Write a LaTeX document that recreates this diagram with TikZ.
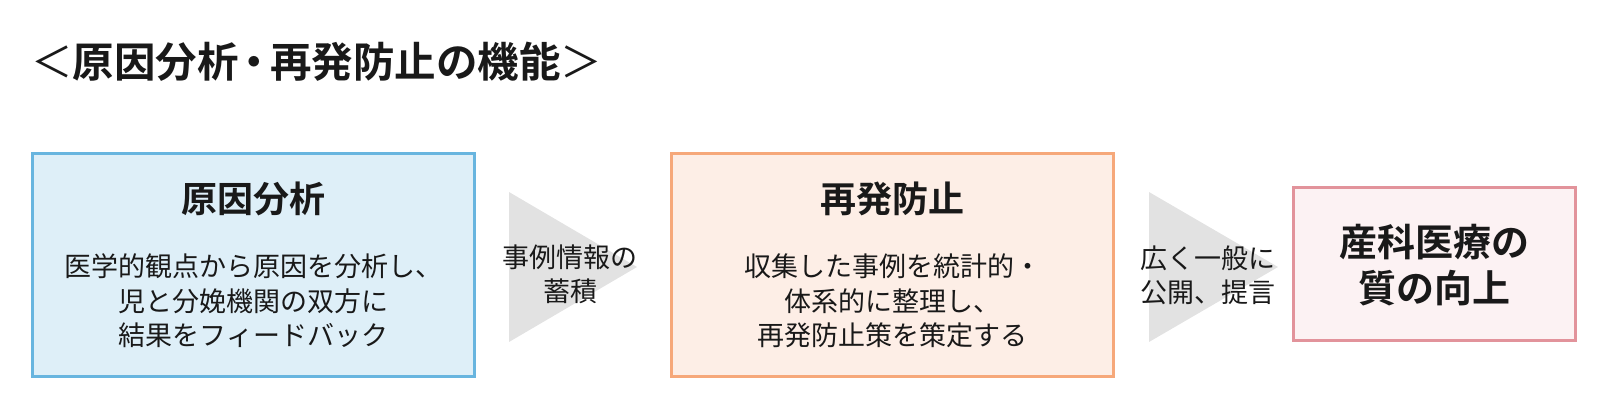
\documentclass[tikz,border=0pt]{standalone}
\usepackage{fontspec}
\setmainfont{Noto Sans CJK JP}
\newfontfamily\jpb{Noto Sans CJK JP Bold}
\definecolor{bluebd}{RGB}{104,181,223}
\definecolor{bluefl}{RGB}{222,239,248}
\definecolor{orabd}{RGB}{246,168,122}
\definecolor{orafl}{RGB}{253,238,230}
\definecolor{pinkbd}{RGB}{226,147,155}
\definecolor{pinkfl}{RGB}{252,242,243}
\definecolor{trigray}{RGB}{226,226,226}
\definecolor{ink}{RGB}{25,25,25}
\tikzset{
  panel/.style={draw, line width=3pt, minimum width=442pt, minimum height=223pt, inner sep=0pt},
  headtext/.style={font=\jpb\fontsize{36}{42}\selectfont, text=ink, inner sep=0pt},
  bodytext/.style={font=\fontsize{27}{34.5}\selectfont, text=ink, align=center, inner sep=0pt},
  arrowtext/.style={font=\fontsize{27}{33.5}\selectfont, text=ink, align=center, inner sep=0pt},
  goaltext/.style={font=\jpb\fontsize{38}{46}\selectfont, text=ink, align=center, inner sep=0pt},
}
\begin{document}
\begin{tikzpicture}[x=1pt,y=-1pt]
\useasboundingbox (0,0) rectangle (1600,418);
% title
\node[anchor=west, inner sep=0pt, text=ink] (title) at (31,62)
  {\fontsize{41.5}{48}\selectfont ＜{\jpb 原因分析\kern-0.12em・\kern-0.12em 再発防止の機能}＞};
% panels
\node[panel, draw=bluebd, fill=bluefl] (analysis) at (253.5,265) {};
\node[panel, draw=orabd, fill=orafl] (prevent) at (892.5,265) {};
\node[panel, draw=pinkbd, fill=pinkfl, minimum width=282pt, minimum height=153pt] (goal) at (1434.5,264) {};
% arrows (triangles)
\coordinate (t1) at (509,192);
\coordinate (t2) at (1149,192);
\fill[trigray] (t1) -- ++(0,150) -- ++(128,-75) -- cycle;
\fill[trigray] (t2) -- ++(0,150) -- ++(129,-75) -- cycle;
% panel texts
\node[headtext] (analysisHead) at (analysis.center |- 0,199) {原因分析};
\node[bodytext] (analysisBody) at (analysis.center |- 0,301) {医学的観点から原因を分析し、\\児と分娩機関の双方に\\結果をフィードバック};
\node[headtext] (preventHead) at (prevent.center |- 0,199) {再発防止};
\node[bodytext] (preventBody) at (prevent.center |- 0,301) {収集した事例を統計的・\\体系的に整理し、\\再発防止策を策定する};
\node[goaltext] (goalText) at (goal.center |- 0,265) {産科医療の\\質の向上};
% arrow labels
\node[arrowtext] (accum) at (570,274.5) {事例情報の\\蓄積};
\node[arrowtext] (publish) at (1208,275.5) {広く一般に\\公開、提言};
\end{tikzpicture}
\end{document}
